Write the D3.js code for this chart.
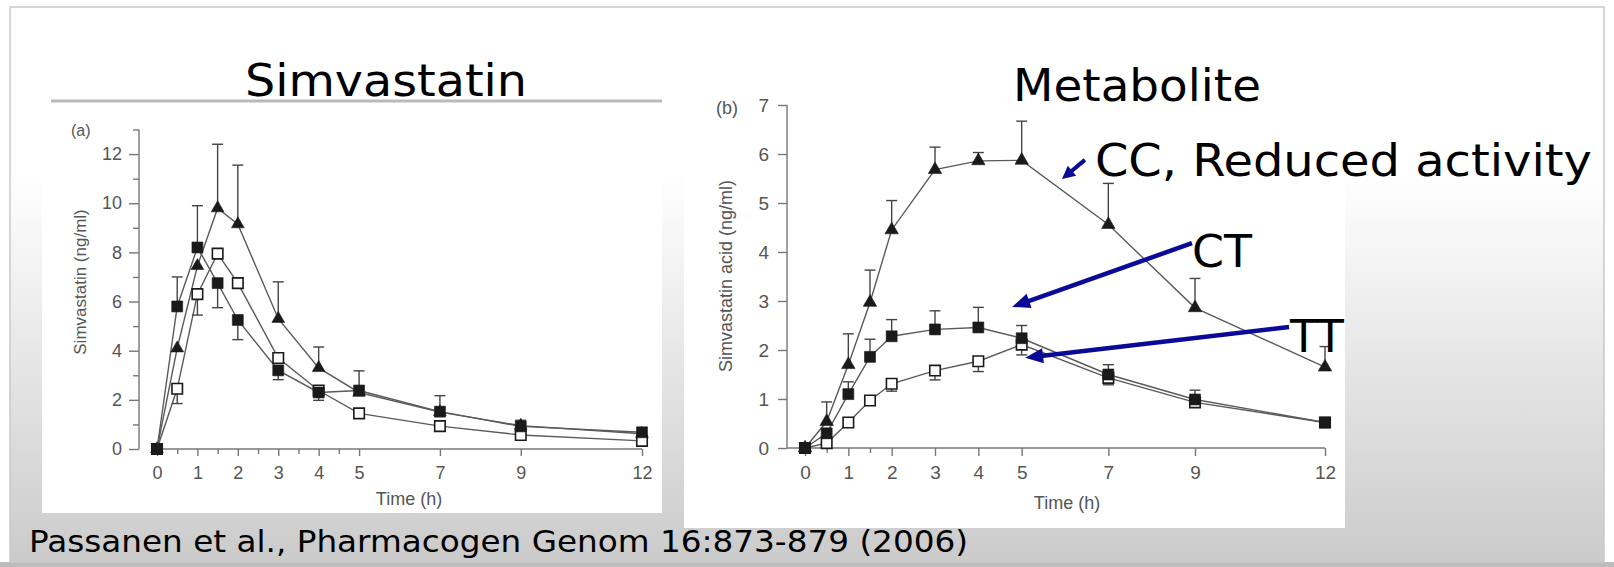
<!DOCTYPE html>
<html>
<head>
<meta charset="utf-8">
<script src="https://cdn.jsdelivr.net/npm/d3@7"></script>
<style>
body { margin: 0; background: #fff; }
svg { display: block; }
</style>
</head>
<body>
<script>
// sampling times (h), same for both panels
var times = [0, 0.5, 1, 1.5, 2, 3, 4, 5, 7, 9, 12];

// (a) simvastatin, ng/ml  (err: + = bar drawn up, - = bar drawn down)
var simvaCC    = [0, 4.1, 7.45, 9.8, 9.15, 5.3, 3.3, 2.3, 1.5, 0.95, 0.62];
var simvaCCerr = [0, 0, 0, 2.6, 2.4, 1.5, 0.85, 0, 0, 0, 0];
var simvaCT    = [0, 5.8, 8.2, 6.75, 5.25, 3.2, 2.3, 2.38, 1.52, 0.92, 0.68];
var simvaCTerr = [0, 1.2, 1.7, -1.0, -0.8, -0.38, -0.32, 0.8, 0.65, 0.25, 0];
var simvaTT    = [0, 2.45, 6.3, 7.95, 6.75, 3.7, 2.38, 1.45, 0.93, 0.57, 0.33];
var simvaTTerr = [0, -0.6, -0.85, 0, 0, 0, 0, 0, 0, 0, 0];

// (b) simvastatin acid, ng/ml
var acidCC    = [0, 0.54, 1.7, 2.97, 4.45, 5.68, 5.86, 5.87, 4.56, 2.86, 1.65];
var acidCCerr = [0, 0.4, 0.63, 0.66, 0.6, 0.46, 0.17, 0.8, 0.84, 0.6, 0.42];
var acidCT    = [0, 0.3, 1.1, 1.86, 2.28, 2.42, 2.46, 2.24, 1.5, 0.99, 0.52];
var acidCTerr = [0, 0, 0.25, 0.36, 0.34, 0.38, 0.41, 0.26, 0.2, 0.19, 0];
var acidTT    = [0, 0.1, 0.52, 0.97, 1.31, 1.58, 1.77, 2.11, 1.43, 0.93, 0.52];
var acidTTerr = [0, 0, 0, 0, -0.15, -0.19, -0.21, -0.21, -0.14, 0, 0];

// ticks
var xTicks  = [0, 1, 2, 3, 4, 5, 7, 9, 12];
var xMinorA = [0.5, 1.5, 2.5, 3.5, 4.5];
var xMinorB = [0.5, 1.5];
var yTicksA = [0, 2, 4, 6, 8, 10, 12];
var yMinorA = [1, 3, 5, 7, 9, 11, 13];
var yTicksB = [0, 1, 2, 3, 4, 5, 6, 7];

// annotation arrows on panel (b), in data units [from, to]
var arrowCC = [[6.46, 5.88], [5.93, 5.49]];
var arrowCT = [[8.93, 4.18], [4.78, 2.88]];
var arrowTT = [[11.17, 2.47], [5.08, 1.84]];

var W = 1614, H = 567;
var svg = d3.select("body").append("svg").attr("width", W).attr("height", H);

// slide background
var grad = svg.append("defs").append("linearGradient")
    .attr("id", "bg").attr("x1", 0).attr("y1", 0).attr("x2", 0).attr("y2", 1);
grad.append("stop").attr("offset", 0).attr("stop-color", "#ffffff");
grad.append("stop").attr("offset", 0.3).attr("stop-color", "#ffffff");
grad.append("stop").attr("offset", 1).attr("stop-color", "#cbcbcb");

svg.append("rect").attr("x", 0).attr("y", 0).attr("width", W).attr("height", H).attr("fill", "#fff");
svg.append("rect").attr("x", 0).attr("y", 562).attr("width", W).attr("height", 5).attr("fill", "#bcbcbc");
svg.append("rect").attr("x", 10).attr("y", 7).attr("width", 1594).attr("height", 555)
    .attr("fill", "url(#bg)").attr("stroke", "#c9c9c9").attr("stroke-width", 1.5);

// panel backgrounds
svg.append("rect").attr("x", 42).attr("y", 101).attr("width", 620).attr("height", 412).attr("fill", "#fff");
svg.append("line").attr("x1", 51).attr("x2", 662).attr("y1", 101).attr("y2", 101)
    .attr("stroke", "#bababa").attr("stroke-width", 3);
svg.append("rect").attr("x", 684).attr("y", 60).attr("width", 661).attr("height", 468).attr("fill", "#fff");

var tickFont = "'Liberation Sans', Arial, sans-serif";
var slideFont = "'DejaVu Sans', Verdana, sans-serif";
var intFmt = d3.format("d");

function styleAxis(g, size) {
    g.select(".domain").remove();
    g.selectAll("line").attr("stroke", "#777").attr("stroke-width", 1.4);
    g.selectAll("text").attr("fill", "#555").style("font-family", tickFont).style("font-size", size + "px");
}

function drawSeries(g, x, y, series) {
    var line = d3.line()
        .x(function(d) { return x(d[0]); })
        .y(function(d) { return y(d[1]); });
    series.forEach(function(s) {
        var pts = times.map(function(t, i) { return [t, s.values[i]]; });
        g.append("path").attr("d", line(pts))
            .attr("fill", "none").attr("stroke", "#5a5a5a").attr("stroke-width", 1.4);
    });
    series.forEach(function(s) {
        times.forEach(function(t, i) {
            var e = s.err[i];
            if (e == 0) return;
            var yEnd = y(s.values[i] + e);
            g.append("line").attr("x1", x(t)).attr("x2", x(t))
                .attr("y1", y(s.values[i])).attr("y2", yEnd)
                .attr("stroke", "#444").attr("stroke-width", 1.4);
            g.append("line").attr("x1", x(t) - 5.5).attr("x2", x(t) + 5.5)
                .attr("y1", yEnd).attr("y2", yEnd)
                .attr("stroke", "#444").attr("stroke-width", 1.4);
        });
    });
    series.forEach(function(s) {
        g.selectAll(null).data(times).enter().append("path")
            .attr("transform", function(t, i) { return "translate(" + x(t) + "," + y(s.values[i]) + ")"; })
            .attr("d", d3.symbol().type(s.shape).size(s.size)())
            .attr("fill", s.fill)
            .attr("stroke", "#1a1a1a")
            .attr("stroke-width", s.fill == "#fff" ? 1.6 : 0.6);
    });
}

// ---------- panel (a) ----------
var xA = d3.scaleLinear().domain([0, 12]).range([157, 642]);
var yA = d3.scaleLinear().domain([0, 13]).range([449, 129.5]);
var gA = svg.append("g");

gA.append("g").attr("transform", "translate(139,0)")
    .call(d3.axisLeft(yA).tickValues(yTicksA).tickFormat(intFmt).tickSize(10).tickPadding(7))
    .call(styleAxis, 18);
gA.append("g").attr("transform", "translate(139,0)")
    .call(d3.axisLeft(yA).tickValues(yMinorA).tickSize(6).tickFormat(""))
    .call(styleAxis, 18);
gA.append("line").attr("x1", 139).attr("x2", 139).attr("y1", yA(0)).attr("y2", yA(13))
    .attr("stroke", "#777").attr("stroke-width", 1.4);

gA.append("g").attr("transform", "translate(0,449)")
    .call(d3.axisBottom(xA).tickValues(xTicks).tickFormat(intFmt).tickSize(7).tickPadding(10))
    .call(styleAxis, 18);
gA.append("g").attr("transform", "translate(0,449)")
    .call(d3.axisBottom(xA).tickValues(xMinorA).tickSize(5).tickFormat(""))
    .call(styleAxis, 18);
gA.append("line").attr("x1", xA(-0.12)).attr("x2", xA(12)).attr("y1", 449).attr("y2", 449)
    .attr("stroke", "#777").attr("stroke-width", 1.4);

gA.append("text").attr("x", 71).attr("y", 136).text("(a)")
    .attr("fill", "#555").style("font-family", tickFont).style("font-size", "16px");
gA.append("text").attr("transform", "translate(82,282) rotate(-90)")
    .attr("text-anchor", "middle").attr("dominant-baseline", "middle")
    .text("Simvastatin (ng/ml)")
    .attr("fill", "#555").style("font-family", tickFont).style("font-size", "17px");
gA.append("text").attr("x", 409).attr("y", 505).attr("text-anchor", "middle")
    .text("Time (h)")
    .attr("fill", "#555").style("font-family", tickFont).style("font-size", "18px");

drawSeries(gA, xA, yA, [
    {values: simvaCC, err: simvaCCerr, shape: d3.symbolTriangle, size: 70, fill: "#1a1a1a"},
    {values: simvaTT, err: simvaTTerr, shape: d3.symbolSquare, size: 110, fill: "#fff"},
    {values: simvaCT, err: simvaCTerr, shape: d3.symbolSquare, size: 120, fill: "#1a1a1a"}
]);

// ---------- panel (b) ----------
var xB = d3.scaleLinear().domain([0, 12]).range([805, 1325]);
var yB = d3.scaleLinear().domain([0, 7]).range([448, 105]);
var gB = svg.append("g");

gB.append("g").attr("transform", "translate(787,0)")
    .call(d3.axisLeft(yB).tickValues(yTicksB).tickFormat(intFmt).tickSize(9).tickPadding(9))
    .call(styleAxis, 19);
gB.append("line").attr("x1", 787).attr("x2", 787).attr("y1", yB(0)).attr("y2", yB(7))
    .attr("stroke", "#777").attr("stroke-width", 1.4);

gB.append("g").attr("transform", "translate(0,448)")
    .call(d3.axisBottom(xB).tickValues(xTicks).tickFormat(intFmt).tickSize(8).tickPadding(10))
    .call(styleAxis, 19);
gB.append("g").attr("transform", "translate(0,448)")
    .call(d3.axisBottom(xB).tickValues(xMinorB).tickSize(5).tickFormat(""))
    .call(styleAxis, 19);
gB.append("line").attr("x1", 787).attr("x2", xB(12)).attr("y1", 448).attr("y2", 448)
    .attr("stroke", "#777").attr("stroke-width", 1.4);

gB.append("text").attr("x", 716).attr("y", 114).text("(b)")
    .attr("fill", "#555").style("font-family", tickFont).style("font-size", "18px");
gB.append("text").attr("transform", "translate(727,276) rotate(-90)")
    .attr("text-anchor", "middle").attr("dominant-baseline", "middle")
    .text("Simvastatin acid (ng/ml)")
    .attr("fill", "#555").style("font-family", tickFont).style("font-size", "18px");
gB.append("text").attr("x", 1067).attr("y", 509).attr("text-anchor", "middle")
    .text("Time (h)")
    .attr("fill", "#555").style("font-family", tickFont).style("font-size", "18px");

drawSeries(gB, xB, yB, [
    {values: acidCC, err: acidCCerr, shape: d3.symbolTriangle, size: 78, fill: "#1a1a1a"},
    {values: acidTT, err: acidTTerr, shape: d3.symbolSquare, size: 110, fill: "#fff"},
    {values: acidCT, err: acidCTerr, shape: d3.symbolSquare, size: 120, fill: "#1a1a1a"}
]);

// ---------- slide text ----------
function bigText(x, y, s, len, size) {
    svg.append("text").attr("x", x).attr("y", y).text(s)
        .attr("textLength", len).attr("lengthAdjust", "spacingAndGlyphs")
        .attr("fill", "#000").style("font-family", slideFont).style("font-size", size + "px");
}
bigText(245, 96, "Simvastatin", 282, 45);
bigText(1013, 101, "Metabolite", 248, 45);
bigText(xB(6.69), yB(5.55), "CC, Reduced activity", 497, 45);
bigText(xB(8.93), yB(3.69), "CT", 60, 45);
bigText(xB(11.19), yB(1.96), "TT", 54, 45);
bigText(29, 552, "Passanen et al., Pharmacogen Genom 16:873-879 (2006)", 939, 30);

// arrows
function arrow(a, w, headLen, headW) {
    var x1 = xB(a[0][0]), y1 = yB(a[0][1]), x2 = xB(a[1][0]), y2 = yB(a[1][1]);
    var dx = x2 - x1, dy = y2 - y1, L = Math.sqrt(dx * dx + dy * dy);
    var ux = dx / L, uy = dy / L;
    var bx = x2 - ux * headLen, by = y2 - uy * headLen;
    svg.append("line").attr("x1", x1).attr("y1", y1).attr("x2", bx + ux * 2).attr("y2", by + uy * 2)
        .attr("stroke", "#0a0a96").attr("stroke-width", w);
    svg.append("polygon")
        .attr("points", [[x2, y2], [bx - uy * headW / 2, by + ux * headW / 2], [bx + uy * headW / 2, by - ux * headW / 2]].join(" "))
        .attr("fill", "#0a0a96");
}
arrow(arrowCC, 4, 13, 13);
arrow(arrowCT, 4.5, 18, 15);
arrow(arrowTT, 4.5, 18, 15);
</script>
</body>
</html>
